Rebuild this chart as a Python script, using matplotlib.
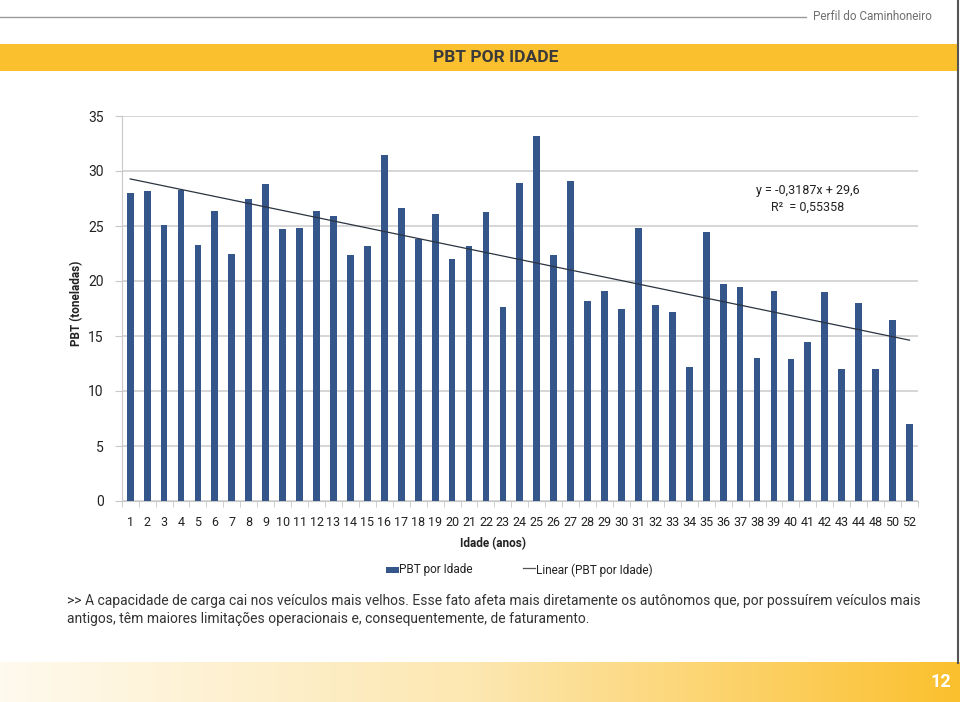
import numpy as np
import matplotlib
matplotlib.use('Agg')
import matplotlib.pyplot as plt
from matplotlib.patches import Rectangle
from matplotlib.lines import Line2D
from matplotlib.colors import LinearSegmentedColormap

plt.rcParams['font.family'] = ['Roboto', 'DejaVu Sans']

# data
idades = ['1', '2', '3', '4', '5', '6', '7', '8', '9', '10', '11', '12', '13', '14', '15', '16',
          '17', '18', '19', '20', '21', '22', '23', '24', '25', '26', '27', '28', '29', '30', '31',
          '32', '33', '34', '35', '36', '37', '38', '39', '40', '41', '42', '43', '44', '48', '50', '52']
pbt = [28.0, 28.2, 25.1, 28.3, 23.3, 26.4, 22.5, 27.5, 28.8, 24.7, 24.8, 26.4, 25.9, 22.4, 23.2, 31.5,
       26.6, 23.8, 26.1, 22.0, 23.2, 26.3, 17.6, 28.9, 33.2, 22.4, 29.1, 18.2, 19.1, 17.5, 24.8,
       17.8, 17.2, 12.2, 24.5, 19.7, 19.5, 13.0, 19.1, 12.9, 14.5, 19.0, 12.0, 18.0, 12.0, 16.5, 7.0]
# trendline as printed on the chart
slope = -0.3187
intercept = 29.6
eq_text = 'y = -0,3187x + 29,6'
r2_text = 'R\u00b2  = 0,55358'

bar_color = '#34568B'
amber = '#FBC02D'
W, H = 960, 702

fig = plt.figure(figsize=(9.6, 7.02), dpi=100)

def fx(px):
    return px / W

def fy(py):
    return 1 - py / H

# header
fig.add_artist(Line2D([0, fx(806)], [fy(17), fy(17)], color='#9a9a9a', lw=1))
fig.text(fx(932), fy(17), 'Perfil do Caminhoneiro', ha='right', va='center', fontsize=8.5, color='#707070')
fig.add_artist(Rectangle((0, fy(71)), fx(957), 27 / H, color=amber, lw=0))
fig.text(fx(496), fy(57), 'PBT POR IDADE', ha='center', va='center', fontsize=12.5,
         fontweight='bold', color='#3a3a3a')
fig.add_artist(Line2D([fx(958), fx(958)], [fy(663), 1], color='#555555', lw=1.5))

# chart
ax = fig.add_axes([fx(121.7), fy(501), fx(918) - fx(121.7), fy(116) - fy(501)])
x = np.arange(len(idades))
ax.bar(x, pbt, width=0.4, color=bar_color, zorder=3)
trend = slope * (x + 1) + intercept
ax.plot(x, trend, color='#2b3440', lw=0.9, zorder=4)

ax.set_xlim(-0.5, len(idades) - 0.5)
ax.set_ylim(0, 35)
ax.set_yticks(np.arange(0, 36, 5))
ax.yaxis.grid(True, color='#d0d0d0', lw=1.2, zorder=0)
ax.set_xticks(x)
ax.set_xticklabels(idades)
ax.set_xticks(np.arange(-0.5, len(idades), 1), minor=True)
ax.tick_params(axis='x', which='major', length=0, pad=11, labelsize=9, colors='#222222')
ax.tick_params(axis='x', which='minor', length=4, color='#c8c8c8', direction='out')
ax.tick_params(axis='y', length=5, color='#c8c8c8', pad=8, labelsize=10, labelcolor='#222222')
for s in ['top', 'right']:
    ax.spines[s].set_visible(False)
ax.spines['left'].set_color('#c8c8c8')
ax.spines['bottom'].set_color('#c8c8c8')

fig.text(fx(77), fy(303), 'PBT (toneladas)', rotation=90, ha='center', va='center',
         fontsize=8.5, fontweight='bold', color='#222222')
fig.text(fx(493), fy(544), 'Idade (anos)', ha='center', va='center',
         fontsize=8.5, fontweight='bold', color='#222222')
fig.text(fx(808), fy(190), eq_text, ha='center', va='center', fontsize=9, color='#222222')
fig.text(fx(808), fy(207), r2_text, ha='center', va='center', fontsize=9, color='#222222')

# legend
fig.add_artist(Rectangle((fx(386), fy(573)), fx(13), 6 / H, color=bar_color, lw=0))
fig.text(fx(399), fy(570), 'PBT por Idade', ha='left', va='center', fontsize=8.5, color='#222222')
fig.add_artist(Line2D([fx(523), fx(535)], [fy(568), fy(568)], color='#555555', lw=0.9))
fig.text(fx(536), fy(570), 'Linear (PBT por Idade)', ha='left', va='center', fontsize=8.5, color='#222222')

# body text
body = ['>> A capacidade de carga cai nos veículos mais velhos. Esse fato afeta mais diretamente os autônomos que, por possuírem veículos mais',
        'antigos, têm maiores limitações operacionais e, consequentemente, de faturamento.']
fig.text(fx(67), fy(601), body[0], ha='left', va='center', fontsize=10, color='#333333')
fig.text(fx(67), fy(619), body[1], ha='left', va='center', fontsize=10, color='#333333')

# footer gradient
fax = fig.add_axes([0, 0, 1, fy(662)])
cmap = LinearSegmentedColormap.from_list('foot', ['#FFFAEE', '#FDE7B0', amber])
fax.imshow(np.linspace(0, 1, 256).reshape(1, -1), aspect='auto', cmap=cmap, extent=[0, 1, 0, 1])
fax.axis('off')
fax.text(0.98, 0.5, '12', ha='center', va='center', fontsize=13, fontweight='bold', color='white')

fig.savefig('out.png', dpi=100)
